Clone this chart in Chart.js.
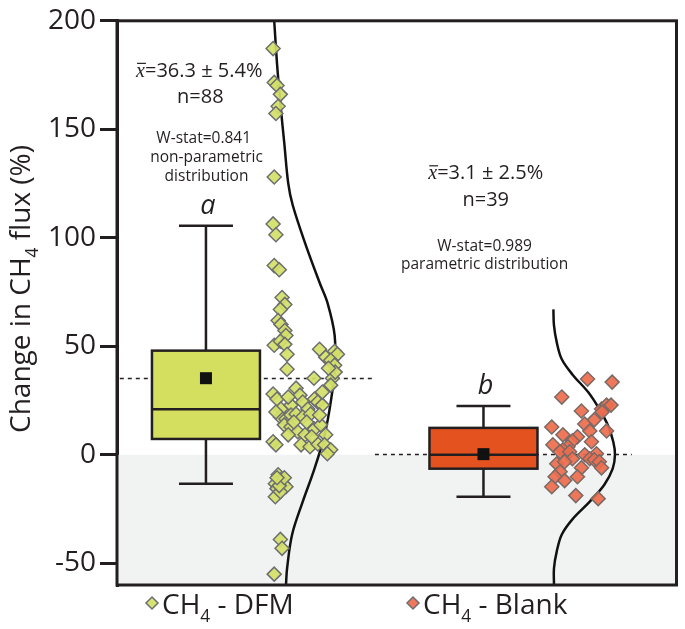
<!DOCTYPE html>
<html>
<head>
<meta charset="utf-8">
<script src="https://cdn.jsdelivr.net/npm/chart.js@4.4.1/dist/chart.umd.min.js"></script>
<style>
  html, body { margin: 0; padding: 0; background: #fff; }
  #wrap { width: 685px; height: 629px; }
</style>
</head>
<body>
<div id="wrap"><canvas id="c" width="685" height="629"></canvas></div>
<script>
// ── Data ───────────────────────────────────────────────────────────────────
// x is a 0–100 horizontal position unit (groups + jitter), y is % change
const groups = ['DFM', 'Blank'];
const yTicks = [-50, 0, 50, 100, 150, 200];

// box plot statistics per group
const boxX      = [15.9, 65.5];
const whiskLow  = [-13.3, -19.3];
const q1        = [7.3, -6.4];
const median    = [21, 0];
const q3        = [48, 12.4];
const whiskHigh = [105.5, 22.5];
const means     = [35.3, 0.3];
const letters   = ['a', 'b'];

// dashed mean reference lines [xStart, xEnd]
const meanLineX = [[0.5, 45.6], [46.1, 92.0]];

// individual measurements (jittered)
const dfmX = [27.9, 28.1, 28.6, 29.2, 28.8, 28.4, 28.1, 27.9, 28.4, 28.1, 29.0, 29.5, 30.0, 29.2, 28.8,
  29.3, 30.0, 30.2, 28.1, 29.2, 30.0, 30.4, 30.4, 36.2, 37.3, 38.9, 39.4, 38.2, 38.9, 35.2,
  38.5, 38.2, 27.9, 28.6, 29.3, 31.1, 32.0, 32.7, 33.2, 34.1, 35.3, 35.9, 36.7, 29.2, 30.2,
  31.1, 32.0, 33.2, 34.6, 29.9, 31.1, 32.3, 33.6, 35.3, 36.4, 37.3, 32.9, 34.5, 35.9, 37.1,
  38.2, 27.9, 28.4, 28.8, 29.3, 28.3, 29.7, 28.6, 30.2, 28.3, 29.2, 29.2, 29.5, 28.1, 30.6,
  31.6, 33.9, 34.8, 28.4, 30.6, 36.2, 39.0, 37.8, 36.7, 29.0, 29.9, 28.6, 37.6];
const dfmY = [187.2, 171.6, 170.2, 166.1, 160.6, 157.3, 128.0, 106.4, 101.4, 87.2, 85.3, 72.5, 69.3, 67.0, 61.9,
  60.1, 57.3, 55.0, 50.5, 52.3, 50.9, 46.3, 39.4, 48.6, 45.0, 47.7, 46.3, 43.6, 41.3, 35.3,
  35.3, 32.1, 28.0, 25.7, 21.1, 22.9, 30.7, 27.5, 24.3, 21.1, 25.7, 24.3, 22.9, 17.4, 16.5,
  18.3, 18.8, 17.4, 18.8, 13.8, 12.8, 10.6, 9.2, 11.9, 13.8, 9.2, 4.6, 3.7, 5.0, 4.6,
  2.3, 6.0, 4.6, -9.2, -11.5, -13.3, -13.3, -15.6, -14.7, -19.3, -17.0, -39.0, -43.1, -55.0, 26.6,
  15.1, 15.1, 8.3, 19.7, 9.2, 18.3, 38.1, 39.9, 28.9, -14.2, -10.6, -10.6, 0.5];

const blankX = [84.1, 88.5, 79.5, 83.0, 86.6, 87.5, 88.3, 86.7, 83.6, 85.3, 84.5, 87.5, 77.7, 79.7, 82.3,
  81.4, 84.8, 77.9, 80.6, 79.7, 79.2, 80.9, 83.6, 85.7, 84.5, 85.3, 86.2, 78.6, 81.4, 80.0,
  83.0, 86.6, 79.2, 82.3, 78.3, 80.0, 77.7, 82.0, 86.0];
const blankY = [34.9, 33.5, 26.6, 20.2, 21.1, 22.9, 22.9, 19.7, 14.2, 16.1, 11.0, 11.0, 12.8, 9.2, 8.3,
  6.4, 6.0, 4.6, 3.7, 2.3, 1.4, 1.4, 0.0, 0.5, -1.8, -2.3, -3.2, -4.1, -1.8, -3.2,
  -6.0, -6.0, -7.8, -10.1, -10.1, -11.9, -14.7, -18.8, -20.2];

// distribution outlines
const dfmCurveX = [28.1, 28.6, 29.2, 29.9, 30.6, 31.4, 33.6, 36.2, 37.6, 38.9, 38.9, 38.2, 37.1, 35.3, 33.2, 31.3, 30.4, 30.2];
const dfmCurveY = [200, 180.3, 161.9, 143.6, 125.2, 115.1, 97.7, 79.4, 70.2, 55.0, 39.4, 24.3, 9.2, -6.4, -21.6, -36.7, -52.3, -60];
const blankCurveX = [78.0, 78.1, 78.6, 79.5, 81.5, 84.2, 86.2, 87.7, 88.7, 89.0, 88.6, 87.1, 84.5, 81.5, 79.5, 78.6, 78.1, 78.1];
const blankCurveY = [67, 59.6, 51.8, 44, 36.7, 28.9, 21.1, 13.8, 6, 0, -6.4, -13.8, -21.6, -29.4, -36.7, -44.5, -52.3, -59.6];

// annotation text blocks: [x, baseline y, text, size]
const notes = [
  [14.7, 174.3, 'xbar=36.3 \u00b1 5.4%', 20],
  [14.9, 161.9, 'n=88', 20],
  [15.5, 143.6, 'W-stat=0.841', 15.5],
  [16.0, 135.0, 'non-parametric', 15.5],
  [16.0, 126.1, 'distribution', 15.5],
  [65.9, 127.1, 'xbar=3.1 \u00b1 2.5%', 20],
  [65.9, 114.7, 'n=39', 20],
  [65.7, 94.0, 'W-stat=0.989', 15.5],
  [65.7, 85.8, 'parametric distribution', 15.5],
];
const letterY = [111, 28];

const FONT = '"Open Sans", sans-serif';
const INK = '#231f20';
const fillDfm = 'rgba(212, 224, 104, 0.92)';
const fillBlank = 'rgba(238, 108, 77, 0.92)';
const boxFill = ['#d4df5f', '#e4531f'];

function pts(xs, ys) { return xs.map((x, i) => ({ x: x, y: ys[i] })); }

// rich text (subscript 4) helper, drawn at current transform
function richText(ctx, parts, x, y, size, align) {
    const widths = parts.map((p) => {
        ctx.font = (p.sub ? size * 0.62 : size) + 'px ' + FONT;
        return ctx.measureText(p.t).width;
    });
    const total = widths.reduce((a, b) => a + b, 0);
    let cx = align === 'center' ? x - total / 2 : x;
    ctx.textAlign = 'left';
    ctx.textBaseline = 'alphabetic';
    parts.forEach((p, i) => {
        ctx.font = (p.sub ? size * 0.62 : size) + 'px ' + FONT;
        ctx.fillText(p.t, cx, p.sub ? y + size * 0.28 : y);
        cx += widths[i];
    });
}

function diamond(ctx, x, y, r, fill) {
    ctx.beginPath();
    ctx.moveTo(x, y - r); ctx.lineTo(x + r, y); ctx.lineTo(x, y + r); ctx.lineTo(x - r, y); ctx.closePath();
    ctx.fillStyle = fill; ctx.fill();
    ctx.lineWidth = 1.5; ctx.strokeStyle = '#6d6e70'; ctx.stroke();
}

// ── Box plots, shading, frame and labels ─────────────────────────────────
const boxPlugin = {
    id: 'boxPlugin',
    beforeDatasetsDraw(chart) {
        const { ctx, chartArea: a, scales: { x, y } } = chart;
        ctx.save();
        // negative region shading
        ctx.fillStyle = '#f1f2f2';
        ctx.fillRect(a.left, y.getPixelForValue(0), a.right - a.left, a.bottom - y.getPixelForValue(0));

        // dashed mean lines
        ctx.setLineDash([4, 4]);
        ctx.lineWidth = 1.5;
        ctx.strokeStyle = INK;
        meanLineX.forEach((r, i) => {
            const py = Math.round(y.getPixelForValue(means[i])) + 0.5;
            ctx.beginPath();
            ctx.moveTo(x.getPixelForValue(r[0]), py);
            ctx.lineTo(x.getPixelForValue(r[1]), py);
            ctx.stroke();
        });
        ctx.setLineDash([]);

        groups.forEach((g, i) => {
            const cx = x.getPixelForValue(boxX[i]);
            const half = 54, cap = 27;
            const yl = y.getPixelForValue(whiskLow[i]);
            const yh = y.getPixelForValue(whiskHigh[i]);
            const y1 = y.getPixelForValue(q1[i]);
            const y3 = y.getPixelForValue(q3[i]);
            const ym = y.getPixelForValue(median[i]);
            ctx.lineWidth = 2.5;
            ctx.strokeStyle = INK;
            ctx.beginPath();
            ctx.moveTo(cx, yh); ctx.lineTo(cx, y3);
            ctx.moveTo(cx, y1); ctx.lineTo(cx, yl);
            ctx.moveTo(cx - cap, yh); ctx.lineTo(cx + cap, yh);
            ctx.moveTo(cx - cap, yl); ctx.lineTo(cx + cap, yl);
            ctx.stroke();
            ctx.fillStyle = boxFill[i];
            ctx.fillRect(cx - half, y3, half * 2, y1 - y3);
            ctx.strokeRect(cx - half, y3, half * 2, y1 - y3);
            ctx.beginPath();
            ctx.moveTo(cx - half, ym); ctx.lineTo(cx + half, ym);
            ctx.stroke();
            const mp = y.getPixelForValue(means[i]);
            ctx.fillStyle = '#111';
            ctx.fillRect(cx - 6, mp - 6, 12, 12);

            // significance letter
            ctx.font = 'italic 27px ' + FONT;
            ctx.textAlign = 'center';
            ctx.fillStyle = INK;
            ctx.fillText(letters[i], cx + 2, y.getPixelForValue(letterY[i]));
        });
        ctx.restore();
    },
    afterDraw(chart) {
        const { ctx, chartArea: a, scales: { x, y } } = chart;
        ctx.save();
        ctx.lineWidth = 3;
        ctx.strokeStyle = INK;
        ctx.strokeRect(a.left, a.top, a.right - a.left, a.bottom - a.top);

        // stats text
        ctx.fillStyle = INK;
        notes.forEach((n) => {
            const px = x.getPixelForValue(n[0]);
            const py = y.getPixelForValue(n[1]);
            ctx.font = n[3] + 'px ' + FONT;
            ctx.textBaseline = 'alphabetic';
            if (n[2].startsWith('xbar')) {
                const rest = n[2].slice(4);
                ctx.font = 'italic ' + n[3] + 'px "Liberation Serif", serif';
                const wx = ctx.measureText('x').width;
                ctx.font = n[3] + 'px ' + FONT;
                const wr = ctx.measureText(rest).width;
                const left = px - (wx + wr) / 2;
                ctx.textAlign = 'left';
                ctx.font = 'italic ' + n[3] + 'px "Liberation Serif", serif';
                ctx.fillText('x', left, py);
                ctx.lineWidth = 1.2;
                ctx.beginPath();
                ctx.moveTo(left + 1, py - n[3] * 0.66);
                ctx.lineTo(left + wx + 1, py - n[3] * 0.66);
                ctx.stroke();
                ctx.font = n[3] + 'px ' + FONT;
                ctx.fillText(rest, left + wx, py);
            } else {
                ctx.textAlign = 'center';
                ctx.fillText(n[2], px, py);
            }
        });

        // y axis title with subscript
        ctx.save();
        ctx.translate(30, 289);
        ctx.rotate(-Math.PI / 2);
        richText(ctx, [{ t: 'Change in CH' }, { t: '4', sub: true }, { t: ' flux (%)' }], 0, 0, 28, 'center');
        ctx.restore();

        // legend
        const legend = [['CH', ' - DFM', fillDfm, 152], ['CH', ' - Blank', fillBlank, 413]];
        legend.forEach((l) => {
            diamond(ctx, l[3], 603, 6, l[2]);
            ctx.fillStyle = INK;
            richText(ctx, [{ t: l[0] }, { t: '4', sub: true }, { t: l[1] }], l[3] + 10, 614, 28, 'left');
        });
        ctx.restore();
    },
};

new Chart(document.getElementById('c'), {
    type: 'scatter',
    data: {
        datasets: [
            {
                label: 'CH4 - DFM',
                data: pts(dfmX, dfmY),
                pointStyle: 'rectRot',
                pointRadius: 7,
                backgroundColor: fillDfm,
                borderColor: '#6d6e70',
                borderWidth: 1.5,
            },
            {
                label: 'CH4 - Blank',
                data: pts(blankX, blankY),
                pointStyle: 'rectRot',
                pointRadius: 7,
                backgroundColor: fillBlank,
                borderColor: '#7a6a66',
                borderWidth: 1.5,
            },
            {
                label: 'DFM density',
                data: pts(dfmCurveX, dfmCurveY),
                showLine: true,
                borderColor: '#111',
                borderWidth: 2.5,
                pointRadius: 0,
                tension: 0.35,
            },
            {
                label: 'Blank density',
                data: pts(blankCurveX, blankCurveY),
                showLine: true,
                borderColor: '#111',
                borderWidth: 2.5,
                pointRadius: 0,
                tension: 0.35,
            },
        ],
    },
    options: {
        responsive: false,
        animation: false,
        layout: { padding: { top: 17, right: 2, bottom: 44, left: 0 } },
        plugins: { legend: { display: false }, tooltip: { enabled: false } },
        scales: {
            x: { type: 'linear', min: 0, max: 100, display: false },
            y: {
                min: -60,
                max: 200,
                afterBuildTicks: (s) => { s.ticks = yTicks.map((v) => ({ value: v })); },
                afterFit: (s) => { s.width = 117; },
                grid: { drawOnChartArea: false, color: INK, lineWidth: 3, tickLength: 17 },
                border: { color: INK, width: 3 },
                ticks: { color: INK, padding: 4, font: { family: '"Open Sans", sans-serif', size: 28 } },
            },
        },
    },
    plugins: [boxPlugin],
});
</script>
</body>
</html>
